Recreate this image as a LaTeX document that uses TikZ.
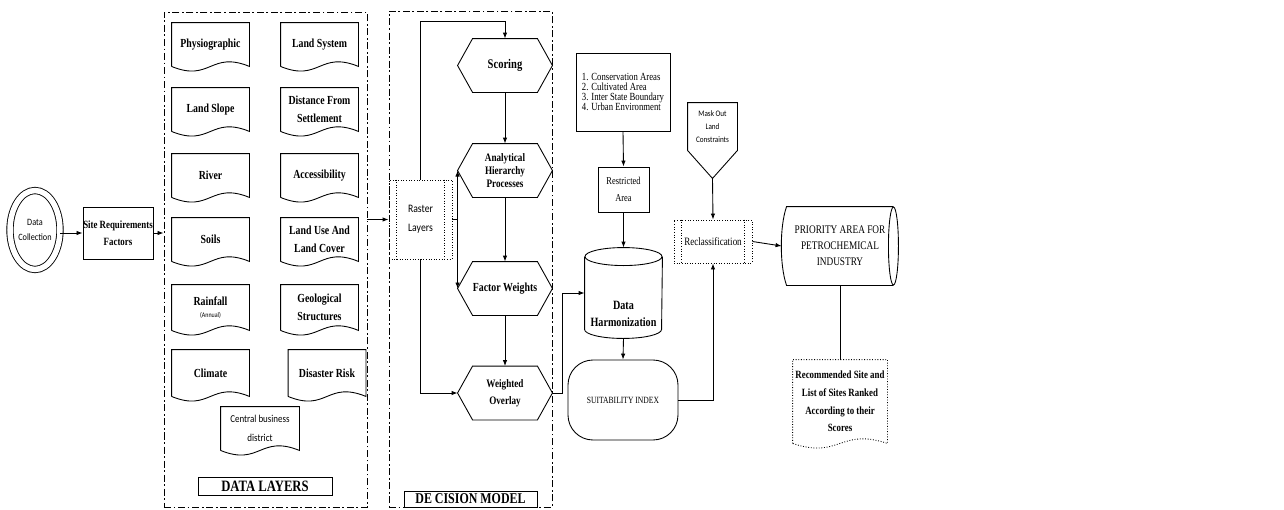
\documentclass[tikz,border=0pt]{standalone}
\usepackage{fontspec}
\setmainfont{Liberation Serif}[FakeStretch=0.8]
\newfontfamily\cbfont{Carlito}[FakeStretch=0.85]
\usetikzlibrary{arrows.meta,calc,shapes.geometric}

\tikzset{every picture/.append style={x=0.2mm,y=-0.2mm}}
\tikzset{
  base/.style={inner sep=0pt, align=center, line width=0.5pt},
  lbl/.style={base, font=\fontsize{7}{10}\selectfont\bfseries},
  plain/.style={base, font=\fontsize{6.5}{9.5}\selectfont},
  box/.style={lbl, draw},
  frame/.style={draw, inner sep=0pt, line width=0.5pt, dash pattern=on 4pt off 1.5pt on 1pt off 1.5pt},
  doc/.style={lbl, minimum width=15.4mm, minimum height=8.6mm},
  hexa/.style={lbl, minimum width=18.8mm, minimum height=10.6mm},
  proc/.style={draw, densely dotted, minimum width=#1},
  arr/.style={-{Latex[length=1.2mm,width=0.9mm]}, line width=0.5pt}
}

% outline of a page with a wavy lower edge
\newcommand\docline[2][]{\draw[line width=0.5pt,#1] (#2.south west) -- (#2.north west) -- (#2.north east) -- (#2.south east)
  .. controls ($(#2.south)+(0,-16)$) and ($(#2.south)+(0,16)$) .. (#2.south west);}
% outline of a six-sided step
\newcommand\hexline[1]{\draw[line width=0.5pt] (#1.west) -- ($(#1.north west)+(15,0)$) -- ($(#1.north east)+(-15,0)$)
  -- (#1.east) -- ($(#1.south east)+(-15,0)$) -- ($(#1.south west)+(15,0)$) -- cycle;}
% inner bars of a predefined process
\newcommand\procbars[1]{\draw[densely dotted, line width=0.5pt] ($(#1.north west)+(8,0)$) -- ($(#1.south west)+(8,0)$)
  ($(#1.north east)+(-8,0)$) -- ($(#1.south east)+(-8,0)$);}

\begin{document}
\begin{tikzpicture}
  \useasboundingbox (0,0) rectangle (1284,510);

  % input side
  \node[base, draw, ellipse, double, double distance=1.1mm, minimum width=10mm, minimum height=15.8mm,
    font=\cbfont\fontsize{5.5}{8.5}\selectfont] (dc) at (35,230) {Data\\Collection};
  \node[box, minimum width=14mm, minimum height=10.4mm, font=\fontsize{6.3}{9.4}\selectfont\bfseries] (site) at (118,233) {Site Requirements\\Factors};

  % data layers
  \node[frame, minimum width=40.6mm, minimum height=99mm] (dl) at (265.5,259.5) {};
  \node[doc] (phys) at (210.5,44.5) {Physiographic};
  \node[doc] (lsys) at (319.5,44.5) {Land System};
  \node[doc] (slope) at (210.5,109.5) {Land Slope};
  \node[doc] (dist) at (319.5,109.5) {Distance From\\Settlement};
  \node[doc] (river) at (210.5,175.5) {River};
  \node[doc] (access) at (319.5,175.5) {Accessibility};
  \node[doc] (soils) at (210.5,239.5) {Soils};
  \node[doc] (luse) at (319.5,239.5) {Land Use And\\Land Cover};
  \node[doc, minimum height=9mm] (rain) at (210.5,307.5) {Rainfall\\[-3pt]{\cbfont\mdseries\fontsize{4}{5}\selectfont(Annual)}};
  \node[doc, minimum height=9mm] (geo) at (319.5,307.5) {Geological\\Structures};
  \node[doc, minimum height=9.2mm] (climate) at (210.5,373) {Climate};
  \node[doc, minimum height=9.2mm] (risk) at (327,373) {Disaster Risk};
  \node[doc, minimum width=15.6mm, font=\cbfont\fontsize{6}{11}\selectfont] (cbd) at (260,428.5) {Central business\\district};
  \foreach \n in {phys,lsys,slope,dist,river,access,soils,luse,rain,geo,climate,risk,cbd}
    {\docline{\n}}
  \node[box, minimum width=26.8mm, minimum height=3.6mm, font=\fontsize{9}{10}\selectfont\bfseries] (dltitle) at (265,486) {DATA LAYERS};

  % decision model
  \node[frame, minimum width=32.6mm, minimum height=99.2mm] (dm) at (470.5,259) {};
  \node[base, proc=12.6mm, minimum height=15.8mm, font=\cbfont\fontsize{6.5}{11}\selectfont] (raster) at (420.5,219.5) {Raster\\Layers};
  \procbars{raster}
  \node[hexa, font=\fontsize{7.5}{10}\selectfont\bfseries] (scoring) at (505,65.5) {Scoring};
  \node[hexa, font=\fontsize{6.5}{7.5}\selectfont\bfseries] (ahp) at (505,170.5) {Analytical\\Hierarchy\\Processes};
  \node[hexa] (fw) at (505,288.5) {Factor Weights};
  \node[hexa, font=\fontsize{6.5}{9.5}\selectfont\bfseries] (wo) at (505,393) {Weighted\\Overlay};
  \foreach \n in {scoring,ahp,fw,wo} {\hexline{\n}}
  \node[box, minimum width=26.6mm, minimum height=3.2mm, font=\fontsize{8.5}{10}\selectfont\bfseries] (dmtitle) at (470.5,499) {DE CISION MODEL};

  % restriction and harmonization
  \node[plain, draw, align=left, minimum width=18.8mm, minimum height=15.6mm, font=\fontsize{6.2}{5.8}\selectfont] (list) at (623,92)
    {1. Conservation Areas\\2. Cultivated Area\\3. Inter State Boundary\\4. Urban Environment};
  \node[plain, draw, minimum width=10.2mm, minimum height=9mm, font=\fontsize{6}{9.5}\selectfont] (ra) at (623.5,189.5) {Restricted\\Area};
  \node[base, minimum width=15.4mm, minimum height=14.4mm] (dh) at (623.5,293) {};
  \draw[line width=0.5pt] (dh.north) ellipse[x radius=38.5, y radius=9];
  \draw[line width=0.5pt] (dh.north west) -- (dh.south west) arc[start angle=180, end angle=0, x radius=38.5, y radius=9] -- (dh.north east);
  \node[lbl, font=\fontsize{7.2}{10}\selectfont\bfseries] (dhtext) at (623.5,314) {Data\\Harmonization};
  \node[plain, draw, rounded corners=5mm, minimum width=22mm, minimum height=16mm, font=\fontsize{5.4}{6}\selectfont] (si) at (623,400) {SUITABILITY INDEX};

  % reclassification and result
  \node[base, minimum width=9.8mm, minimum height=9.4mm, font=\cbfont\fontsize{4.8}{7.5}\selectfont] (mask) at (712.5,126.5) {Mask Out\\Land\\Constraints};
  \draw[line width=0.5pt] (mask.south west) -- (mask.north west) -- (mask.north east) -- (mask.south east) -- ($(mask.south)+(0,28)$) -- cycle;
  \node[plain, proc=15.6mm, minimum height=8.6mm, font=\fontsize{6.4}{9}\selectfont] (rc) at (713,241.5) {Reclassification};
  \procbars{rc}
  \node[plain, minimum width=21.2mm, minimum height=15.6mm, font=\fontsize{6.6}{9}\selectfont] (pa) at (840,246) {PRIORITY AREA FOR\\PETROCHEMICAL\\INDUSTRY};
  \draw[line width=0.5pt] (pa.north east) -- (pa.north west) .. controls ($(pa.north west)+(-7,20)$) and ($(pa.south west)+(-7,-20)$) .. (pa.south west) -- (pa.south east);
  \draw[line width=0.5pt] (pa.east) ellipse[x radius=5, y radius=39];
  \node[doc, minimum width=18.8mm, minimum height=16.6mm, font=\fontsize{6.3}{10}\selectfont\bfseries] (rec) at (840,401.5) {Recommended Site and\\List of Sites Ranked\\According to their\\Scores};
  \docline[densely dotted]{rec}

  % connectors
  \draw[arr] (dc.east |- site.west) -- (site.west);
  \draw[arr] (site.east) -- (site.east -| dl.west);
  \draw[arr] (raster.west -| dl.east) -- (raster.west);
  \draw[arr] (raster.north) -- ++(0,-158) -| (scoring.north);
  \draw[arr] (scoring.south) -- (ahp.north);
  \draw[arr] (ahp.south) -- (fw.north);
  \draw[arr] (fw.south) -- (wo.north);
  \draw[arr] (raster.east) -| (ahp.west);
  \draw[arr] (raster.east) -| (fw.west);
  \draw[arr] (raster.south) |- (wo.west);
  \draw[arr] (wo.east) -- ++(10,0) |- (dh.west);
  \draw[arr] (list.south) -- (ra.north);
  \draw[arr] (ra.south) -- ($(dh.north)+(0,-9)$);
  \draw[arr] ($(dh.south)+(0,9)$) -- (si.north);
  \draw[arr] (si.east) -| (rc.south);
  \draw[arr] ($(mask.south)+(0,28)$) -- (rc.north);
  \draw[arr] (rc.east) -- ($(pa.west)+(-5,0)$);
  \draw[line width=0.5pt] (pa.south) -- (rec.north);
\end{tikzpicture}
\end{document}
